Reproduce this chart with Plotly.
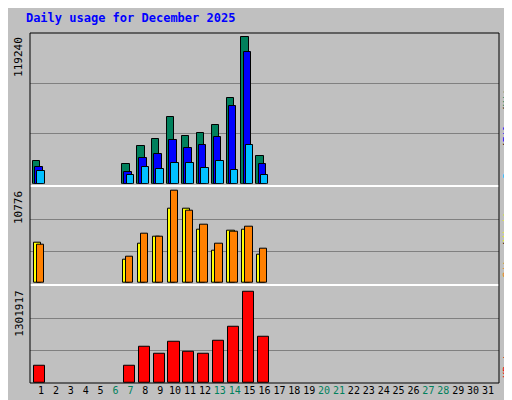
import plotly.graph_objects as go
from plotly.subplots import make_subplots

days = list(range(1, 32))
active = [1, 7, 8, 9, 10, 11, 12, 13, 14, 15, 16]
hits = [18500, 16100, 30600, 36300, 54000, 38700, 41100, 47500, 69300, 119240, 22600]
files = [13700, 9700, 21000, 24200, 35500, 29000, 31400, 37900, 62800, 107200, 16100]
pages = [10500, 7300, 13700, 12100, 16900, 16900, 12900, 18500, 11300, 31400, 7300]
sites = [4750, 2670, 4630, 5450, 8690, 8690, 6260, 3820, 6140, 6260, 3240]
visits = [4520, 3010, 5790, 5450, 10776, 8460, 6840, 4630, 6030, 6600, 3940]
kbytes = [240600, 240600, 523600, 410400, 594400, 438700, 410400, 608500, 806600, 1301917, 665100]
weekend = [6, 7, 13, 14, 20, 21, 27, 28]

BG = "#C0C0C0"
FONT = "DejaVu Sans Mono"

fig = make_subplots(rows=3, cols=1, shared_xaxes=True, vertical_spacing=0.0)
line = dict(color="black", width=1)

def bars(y, color, offset, width, row):
    fig.add_trace(go.Bar(x=active, y=y, marker=dict(color=color, line=line),
                         offset=offset, width=width, showlegend=False), row=row, col=1)

bars(hits, "#00805C", -0.55, 0.5, 1)
bars(files, "#0000FF", -0.4, 0.5, 1)
bars(pages, "#00C0FF", -0.25, 0.5, 1)
bars(sites, "#FFFF00", -0.5, 0.5, 2)
bars(visits, "#FF8000", -0.3, 0.5, 2)
bars(kbytes, "#FF0000", -0.45, 0.75, 3)

doms = [[0.569, 1.0], [0.286, 0.558], [0.0, 0.275]]
tops = [max(hits), max(visits), max(kbytes)]
facs = [152 / 148, 96 / 93, 97 / 92]
for i in range(3):
    r = tops[i] * facs[i]
    ya = "yaxis" if i == 0 else f"yaxis{i + 1}"
    fig.layout[ya].update(domain=doms[i], range=[0, r], tickvals=[r / 3, 2 * r / 3],
                          ticktext=["", ""], showgrid=True, gridcolor="#808080",
                          gridwidth=1, zeroline=False, ticks="", fixedrange=True)
    fig.add_annotation(xref="paper", yref="paper", x=-0.005, y=doms[i][1] - 0.005,
                       text=str(tops[i]), textangle=-90, showarrow=False,
                       xanchor="right", yanchor="top",
                       font=dict(family=FONT, size=11, color="black"))

ticktext = [f"<span style='color:#00805C'>{d}</span>" if d in weekend else str(d) for d in days]
for i in range(3):
    xa = "xaxis" if i == 0 else f"xaxis{i + 1}"
    fig.layout[xa].update(range=[0.26, 31.74], showgrid=False, zeroline=False,
                          tickvals=days, ticktext=ticktext if i == 2 else [""] * 31,
                          showticklabels=(i == 2), ticks="", tickangle=0,
                          tickfont=dict(family=FONT, size=10))

legends = [
    "<span style='color:#00C0FF'>Pages</span>/<span style='color:#0000FF'>Files</span>/<span style='color:#00805C'>Hits</span>",
    "<span style='color:#FF8000'>Sites</span>/<span style='color:#FFFF00'>Visits</span>",
    "<span style='color:#FF0000'>KBytes</span>",
]
for i, txt in enumerate(legends):
    fig.add_annotation(xref="paper", yref="paper", x=1.002, y=doms[i][0] + 0.01,
                       text=txt, textangle=-90, showarrow=False,
                       xanchor="left", yanchor="bottom",
                       font=dict(family=FONT, size=10, color="black"))

for y in [0.563, 0.280]:
    fig.add_shape(type="line", xref="paper", yref="paper", x0=0, x1=1, y0=y, y1=y,
                  line=dict(color="white", width=2))
fig.add_shape(type="rect", xref="paper", yref="paper", x0=0, x1=1, y0=0, y1=1,
              line=dict(color="black", width=1))

fig.update_layout(
    width=512, height=400, paper_bgcolor=BG, plot_bgcolor=BG,
    barmode="overlay", bargap=0,
    margin=dict(l=22, r=21, t=25, b=22),
    font=dict(family=FONT, size=11, color="black"),
    title=dict(text="<b>Daily usage for December 2025</b>", x=0.035, xanchor="left",
               y=0.985, yanchor="top", font=dict(family=FONT, size=12, color="#0000FF")),
)
fig.write_html("out.html")
